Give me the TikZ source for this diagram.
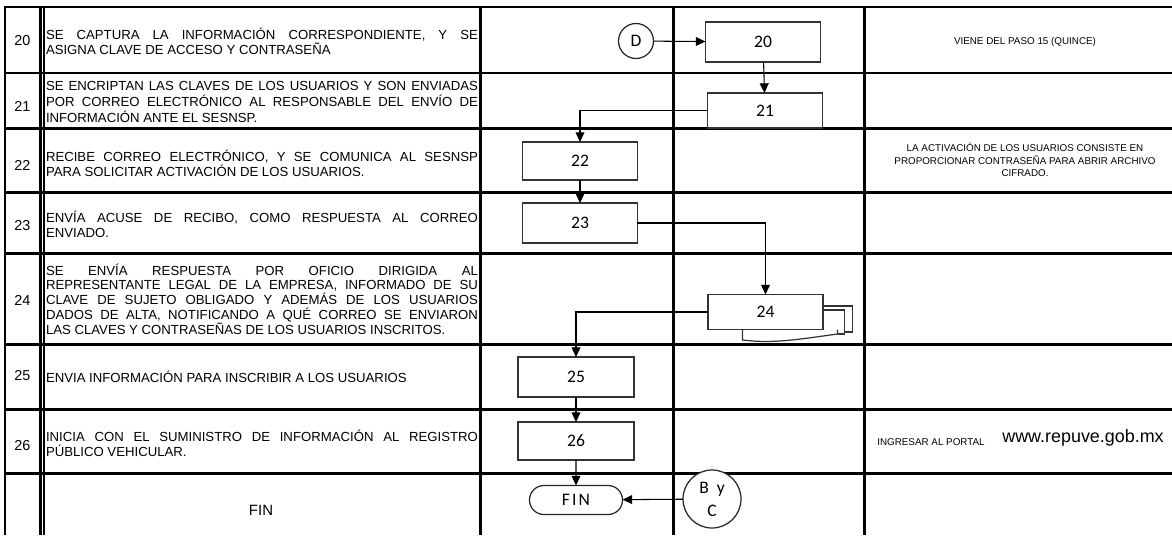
\documentclass[tikz,border=0pt]{standalone}
\usepackage{fontspec}
\setmainfont{Liberation Sans}
\newfontfamily\boxfont{Carlito}
\usetikzlibrary{positioning,arrows.meta,shapes}

\begin{document}
\begin{tikzpicture}
[x=0.02cm, y=-0.02cm,
    every node/.style={inner sep=0pt, outer sep=0pt},
    grid/.style={line width=1.7pt},
    thin grid/.style={line width=0.6pt},
    desc/.style={anchor=west, text width=8.64cm, align=justify,
    font=\fontsize{7.5}{8.4}\selectfont},
    num/.style={font=\fontsize{8.2}{9}\selectfont},
    note/.style={font=\fontsize{5.6}{7.2}\selectfont, align=center},
    proc/.style={draw=black!80, line width=0.7pt, fill=white,
    minimum width=2.3cm, minimum height=0.8cm, font=\boxfont\fontsize{10}{11}\selectfont},
    conn/.style={circle, draw=black!85, line width=0.7pt, fill=white,
    align=center, font=\boxfont\fontsize{10}{11}\selectfont},
    doc/.style={draw=black!80, line width=0.7pt},
    flow/.style={draw, line width=0.6pt, -{Triangle[length=5.5pt,width=5pt]}}
    ]

    \useasboundingbox (0,0) rectangle (1172,535);

    % table lines
    \foreach \y in {7,73,128,192,253,344,409,473}
        \draw[grid] (5,\y) -- (1172,\y);
    \foreach \x in {5,480,673,864}
        \draw[grid] (\x,6) -- (\x,535);
    \draw[line width=1.3pt] (40.5,6) -- (40.5,535);
    \draw[thin grid] (44,6) -- (44,535);

    % step numbers
    \node[num] (s20) at (22.5,41) {20};
    \node[num] (s21) at (22.5,106) {21};
    \node[num] (s22) at (22.5,165) {22};
    \node[num] (s23) at (22.5,226) {23};
    \node[num] (s24) at (22.5,300) {24};
    \node[num] (s25) at (22.5,376) {25};
    \node[num] (s26) at (22.5,446) {26};

    % descriptions
    \node[desc] (t20) at (46,41) {SE CAPTURA LA INFORMACIÓN CORRESPONDIENTE, Y SE\linebreak
    ASIGNA CLAVE DE ACCESO Y CONTRASEÑA};
    \node[desc, font=\fontsize{7.5}{8.9}\selectfont] (t21) at (46,102) {SE ENCRIPTAN LAS CLAVES DE LOS USUARIOS Y SON ENVIADAS\linebreak
    POR CORREO ELECTRÓNICO AL RESPONSABLE DEL ENVÍO DE\linebreak
    INFORMACIÓN ANTE EL SESNSP.};
    \node[desc] (t22) at (46,163) {RECIBE CORREO ELECTRÓNICO, Y SE COMUNICA AL SESNSP\linebreak
    PARA SOLICITAR ACTIVACIÓN DE LOS USUARIOS.};
    \node[desc] (t23) at (46,224) {ENVÍA ACUSE DE RECIBO, COMO RESPUESTA AL CORREO\linebreak
    ENVIADO.};
    \node[desc] (t24) at (46,299) {SE ENVÍA RESPUESTA POR OFICIO DIRIGIDA AL\linebreak
    REPRESENTANTE LEGAL DE LA EMPRESA, INFORMADO DE SU\linebreak
    CLAVE DE SUJETO OBLIGADO Y ADEMÁS DE LOS USUARIOS\linebreak
    DADOS DE ALTA, NOTIFICANDO A QUÉ CORREO SE ENVIARON\linebreak
    LAS CLAVES Y CONTRASEÑAS DE LOS USUARIOS INSCRITOS.};
    \node[desc] (t25) at (46,377) {ENVIA INFORMACIÓN PARA INSCRIBIR A LOS USUARIOS};
    \node[desc] (t26) at (46,443) {INICIA CON EL SUMINISTRO DE INFORMACIÓN AL REGISTRO\linebreak
    PÚBLICO VEHICULAR.};
    \node[font=\fontsize{8.5}{10}\selectfont] (tfin) at (261,510) {FIN};

    % notes
    \node[note] (viene) at (1025,42) {VIENE DEL PASO 15 (QUINCE)};
    \node[note] (activa) at (1025,160) {LA ACTIVACIÓN DE LOS USUARIOS CONSISTE EN\\
    PROPORCIONAR CONTRASEÑA PARA ABRIR ARCHIVO\\CIFRADO.};
    \node[note] (portal) at (931,442) {INGRESAR AL PORTAL};
    \node[font=\fontsize{10.2}{12}\selectfont] (url) at (1083,438) {www.repuve.gob.mx};

    % flow
    \node[conn, minimum size=0.7cm] (D) at (636,41) {D};
    \node[proc] (n20) at (763,42) {20};
    \node[proc, minimum height=0.7cm] (n21) at (765,110.5) {21};
    \node[proc, minimum height=0.76cm] (n22) at (580,161) {22};
    \node[proc] (n23) at (580,223) {23};
    \node[proc, minimum height=0.7cm] (n24) at (765.5,312) {24};
    \node[proc, minimum width=2.32cm] (n25) at (576,377) {25};
    \node[proc, minimum width=2.32cm, minimum height=0.76cm] (n26) at (576,441) {26};
    \node[rounded rectangle, draw=black!85, line width=0.7pt, minimum width=1.86cm,
    minimum height=0.58cm, font=\boxfont\fontsize{10}{11}\selectfont\addfontfeature{LetterSpace=12}] (fin) at (576,500) {FIN};
    \node[conn, minimum size=1.16cm, font=\boxfont\fontsize{10}{13}\selectfont] (ByC) at (712,499) {B\ \ y\\C};

    % stacked sheets behind 24
    \begin{scope}[shift={(n24.center)}]
        \draw[doc] (58,-6) -- (87,-6) -- (87,20) -- (79,20);
        \draw[doc] (58,-2) -- (79,-2) -- (79,22) -- (72,22);
        \draw[doc] (72,17.5) -- (72,22) .. controls (35,27) and (8,32) .. (-23,28) -- (-23,17.5);
    \end{scope}

    \draw[flow] (D) -- (n20);
    \draw[flow] (n20) -- (n21);
    \draw[flow] (n21.west) -| (n22.north);
    \draw[flow] (n22) -- (n23);
    \draw[flow] (n23.east) -| (n24.north);
    \draw[flow] (n24.west) -| (n25.north);
    \draw[flow] (n25) -- (n26);
    \draw[flow] (n26) -- (fin);
    \draw[flow] (ByC) -- (fin);
\end{tikzpicture}
\end{document}
